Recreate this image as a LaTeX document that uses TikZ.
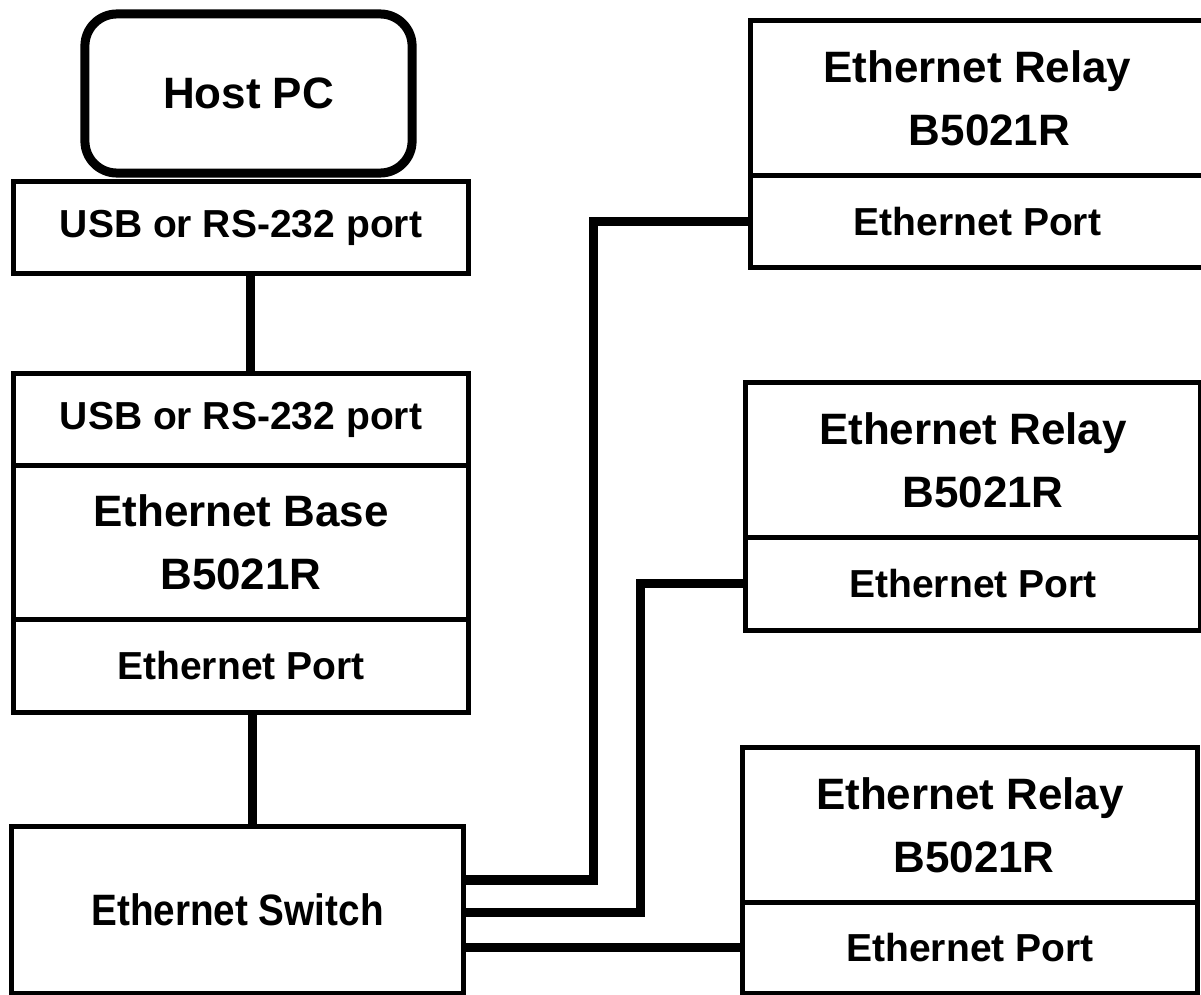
\documentclass[tikz,border=0pt]{standalone}
\usepackage{graphicx}
\usepackage{fontspec}
\setmainfont{Liberation Sans}
\usetikzlibrary{positioning}
\begin{document}
\begin{tikzpicture}[x=0.01cm, y=-0.01cm, line join=miter,
	box/.style={draw, line width=0.05cm, rectangle, inner sep=0pt, outer sep=0pt, align=center},
	big/.style={font=\fontsize{12.5}{18}\selectfont\bfseries},
	small/.style={font=\fontsize{11.1}{16}\selectfont\bfseries},
	leftbox/.style={box, minimum width=4.55cm},
	relay/.style={box, big, minimum width=4.54cm, minimum height=1.54cm},
	port/.style={box, small, minimum width=4.54cm},
	link/.style={line width=0.09cm}]
	\useasboundingbox (0,0) rectangle (1201,994);
	\clip (0,0) rectangle (1201,994);
	% left column
	\node[box, big, line width=0.09cm, rounded corners=0.32cm, minimum width=3.27cm, minimum height=1.59cm] (host) at (248.5,93.5) {Host PC};
	\node[leftbox, small, minimum height=0.91cm] (usbpc) at (241,227.5) {USB or RS-232 port};
	\node[leftbox, small, minimum height=0.91cm] (usbbase) at (241,419.5) {USB or RS-232 port};
	\node[leftbox, big, minimum height=1.54cm, below=0pt of usbbase] (base) {Ethernet Base\\B5021R};
	\node[leftbox, small, minimum height=0.93cm, below=0pt of base] (baseport) {Ethernet Port};
	\node[box, big, minimum width=4.51cm, minimum height=1.66cm] (switch) at (237.5,910) {\scalebox{0.88}[1]{Ethernet Switch}};
	% right column
	\node[relay] (relayA) at (977.5,98) {Ethernet Relay\\\hspace*{0.24cm}B5021R};
	\node[port, minimum height=0.92cm, below=0pt of relayA] (portA) {Ethernet Port};
	\node[relay] (relayB) at (973,460) {Ethernet Relay\\\hspace*{0.2cm}B5021R};
	\node[port, minimum height=0.93cm, below=0pt of relayB] (portB) {Ethernet Port};
	\node[relay] (relayC) at (970,825) {Ethernet Relay\\\hspace*{0.08cm}B5021R};
	\node[port, minimum height=0.91cm, below=0pt of relayC] (portC) {Ethernet Port};
	% cables
	\draw[link] ([xshift=0.09cm]usbpc.south) -- ([xshift=0.09cm]usbpc.south |- usbbase.north);
	\draw[link] ([xshift=0.11cm]baseport.south) -- ([xshift=0.11cm]baseport.south |- switch.north);
	\draw[link] ([yshift=0.3cm]switch.east) -- ++(130,0) |- (portA.west);
	\draw[link] ([yshift=-0.02cm]switch.east) -- ++(177,0) |- (portB.west);
	\draw[link] (switch.east |- portC.west) -- (portC.west);
\end{tikzpicture}
\end{document}
